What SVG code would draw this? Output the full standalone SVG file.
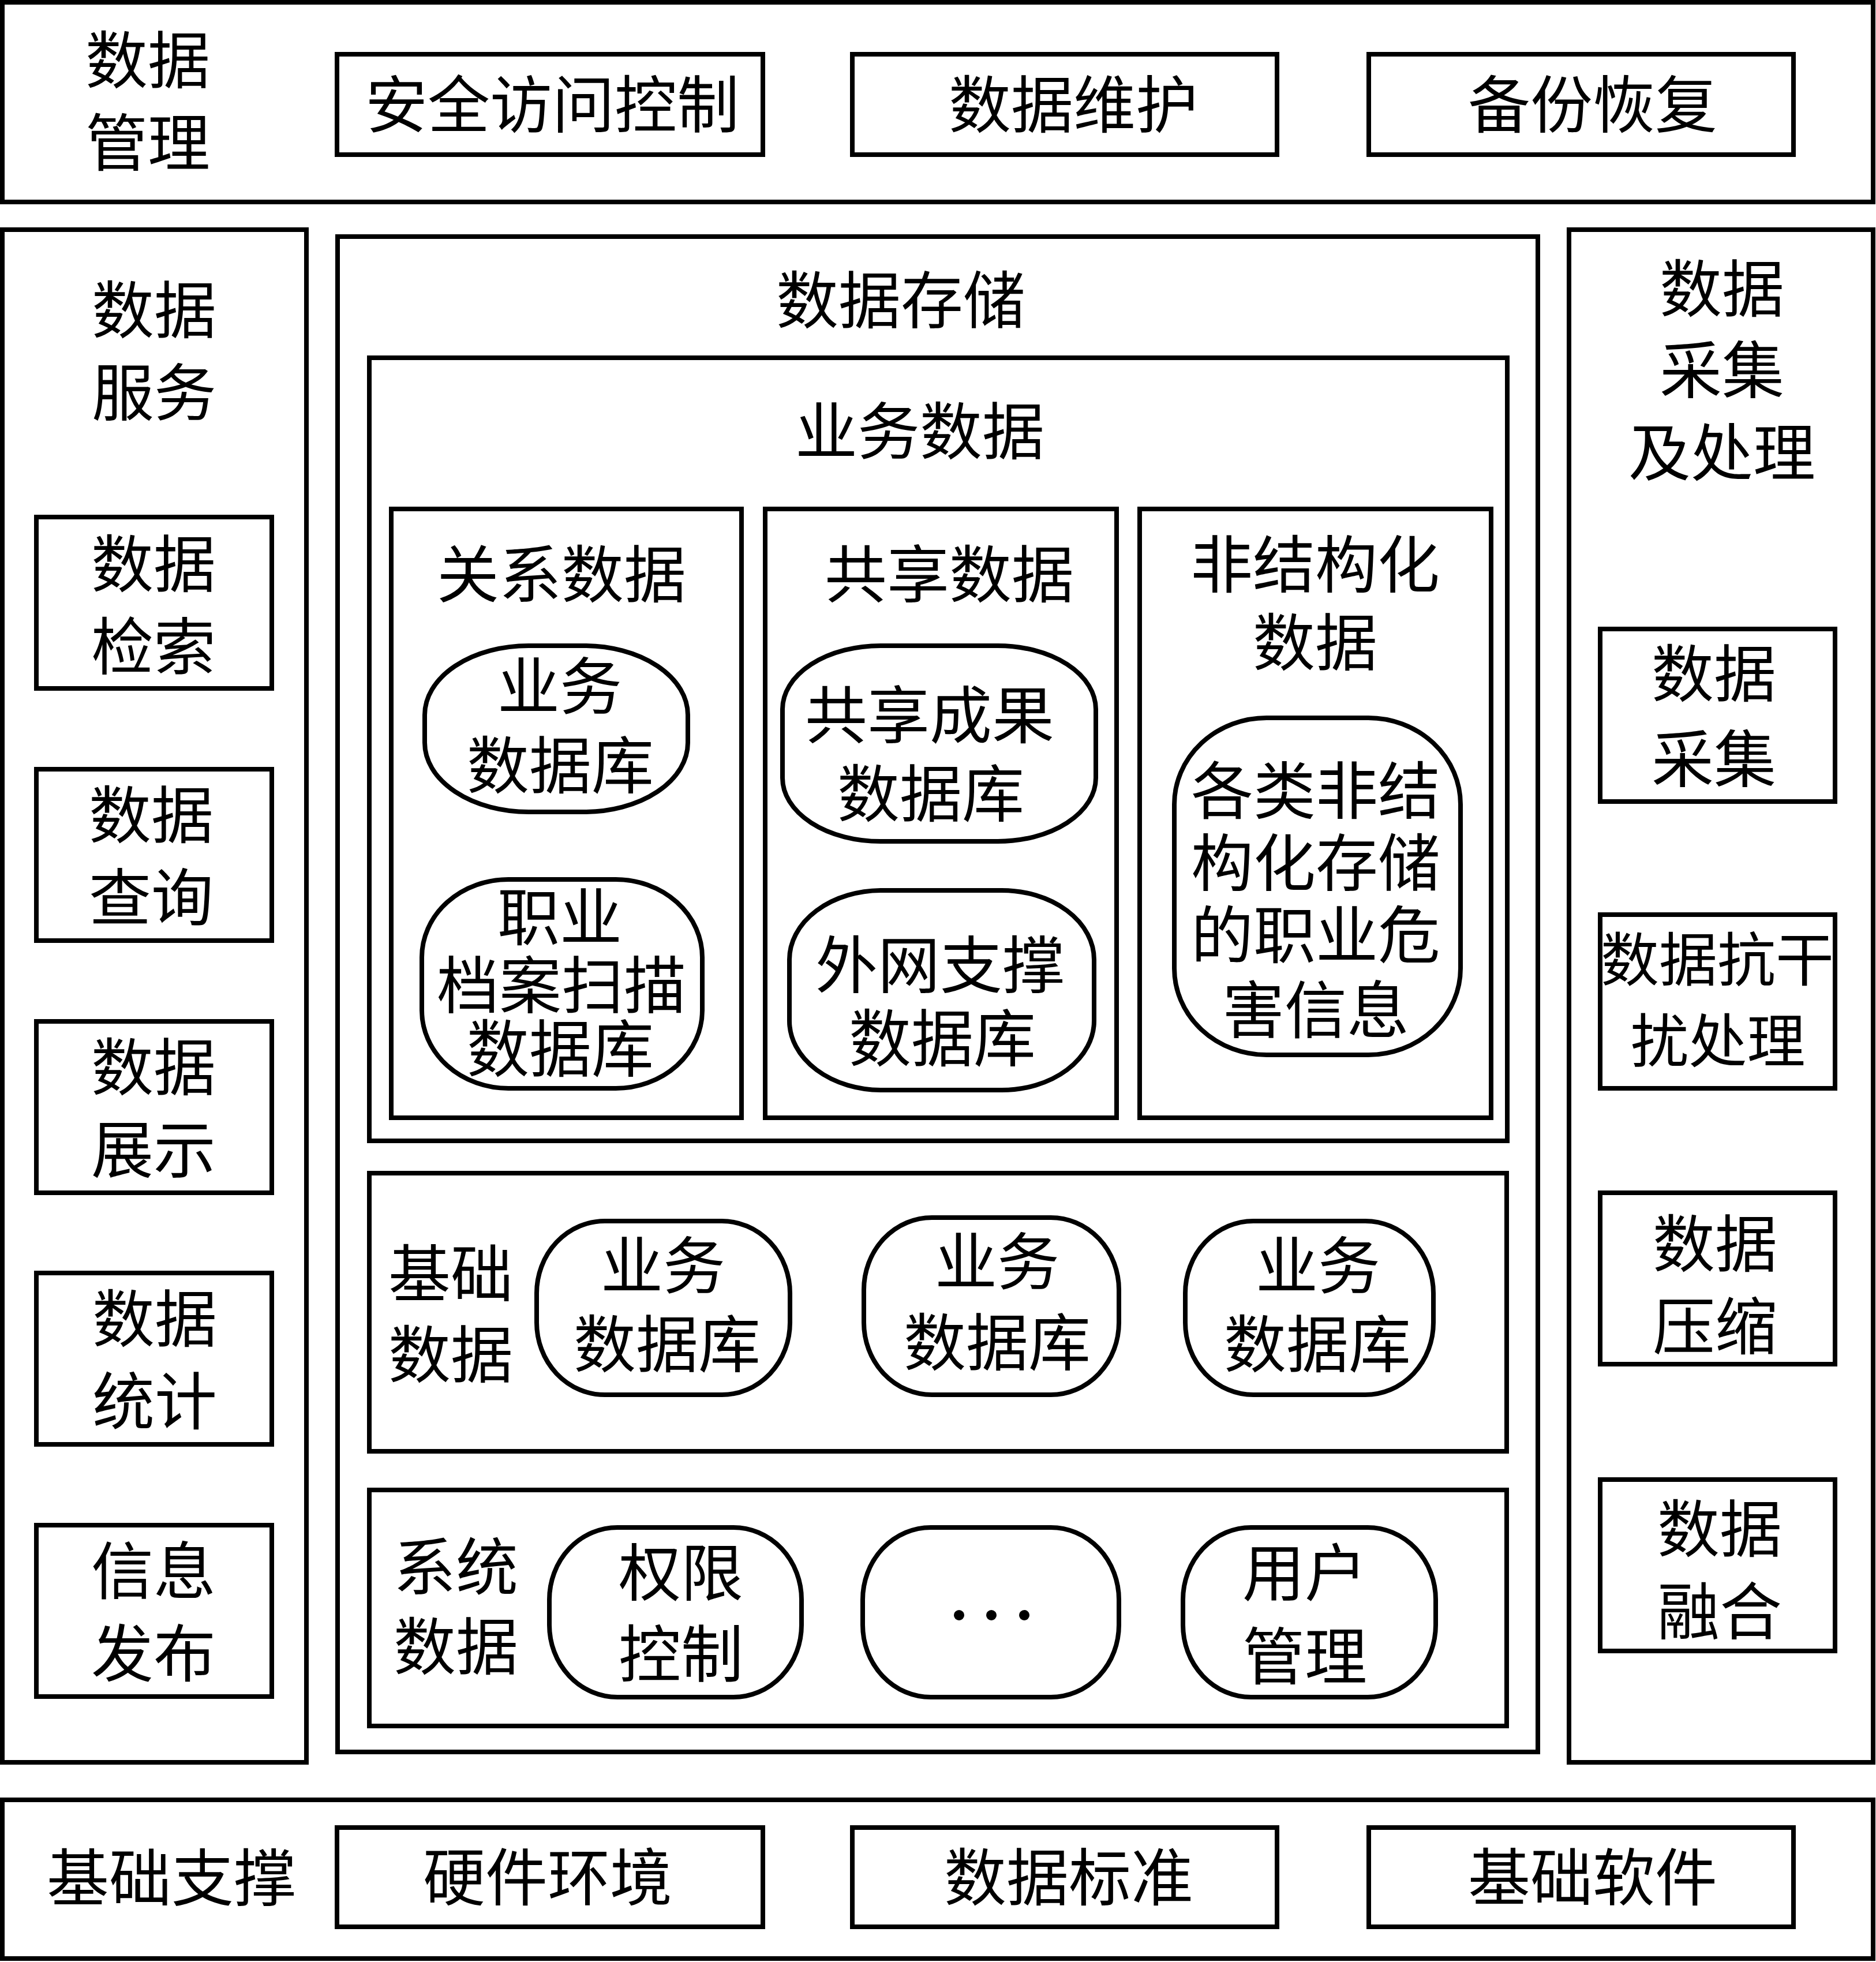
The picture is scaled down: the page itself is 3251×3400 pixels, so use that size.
<svg xmlns="http://www.w3.org/2000/svg" width="3251" height="3400" viewBox="0 0 3251 3400">
<style>
.b{fill:none;stroke:#000;stroke-width:8}
.r{fill:none;stroke:#000;stroke-width:8}
text{font-family:"Noto Sans CJK SC","Noto Sans CJK JP",sans-serif;font-size:108px;fill:#000;text-anchor:middle}
</style>
<rect x="0" y="0" width="3251" height="3400" fill="#fff"/>
<g id="top-bar">
<rect class="b" x="4" y="4" width="3242" height="346"/>
<text x="256" y="144">数据</text><text x="256" y="287">管理</text>
</g>
<g id="n-security"><rect class="b" x="584" y="94" width="738" height="174"/><text x="957" y="221">安全访问控制</text></g>
<g id="n-maintain"><rect class="b" x="1477" y="94" width="736" height="174"/><text x="1860" y="221">数据维护</text></g>
<g id="n-backup"><rect class="b" x="2372" y="94" width="736" height="174"/><text x="2760" y="221">备份恢复</text></g>

<g id="left-panel">
<rect class="b" x="4" y="398" width="527" height="2656"/>
<text x="267" y="577">数据</text><text x="267" y="720">服务</text>
</g>
<g id="n-search"><rect class="b" x="63" y="896" width="408" height="297"/><text x="266" y="1017">数据</text><text x="266" y="1160">检索</text></g>
<g id="n-query"><rect class="b" x="63" y="1333" width="408" height="297"/><text x="262" y="1452">数据</text><text x="262" y="1595">查询</text></g>
<g id="n-show"><rect class="b" x="63" y="1770" width="408" height="297"/><text x="266" y="1889">数据</text><text x="266" y="2032">展示</text></g>
<g id="n-stat"><rect class="b" x="63" y="2206" width="408" height="297"/><text x="268" y="2325">数据</text><text x="268" y="2468">统计</text></g>
<g id="n-publish"><rect class="b" x="63" y="2643" width="408" height="297"/><text x="266" y="2762">信息</text><text x="266" y="2905">发布</text></g>

<g id="storage">
<rect class="b" x="585" y="410" width="2080" height="2626"/>
<text x="1561" y="560">数据存储</text>
</g>
<g id="business">
<rect class="b" x="640" y="620" width="1972" height="1357"/>
<text x="1594" y="787">业务数据</text>
</g>
<g id="relational">
<rect class="b" x="678" y="882" width="607" height="1055"/>
<text x="973" y="1035">关系数据</text>
</g>
<g id="n-bizdb1"><rect class="r" x="736" y="1119" width="456" height="288" rx="180" ry="120"/><text x="970" y="1229">业务</text><text x="971" y="1366">数据库</text></g>
<g id="n-archive"><rect class="r" x="731" y="1524" width="486" height="362" rx="150" ry="135"/><text x="970" y="1629">职业</text><text x="973" y="1747">档案扫描</text><text x="971" y="1857">数据库</text></g>
<g id="shared">
<rect class="b" x="1326" y="882" width="609" height="1055"/>
<text x="1645" y="1035">共享数据</text>
</g>
<g id="n-result"><rect class="r" x="1356" y="1119" width="543" height="339" rx="170" ry="110"/><text x="1611" y="1279">共享成果</text><text x="1613" y="1415">数据库</text></g>
<g id="n-extnet"><rect class="r" x="1368" y="1543" width="528" height="346" rx="160" ry="120"/><text x="1629" y="1712">外网支撑</text><text x="1633" y="1839">数据库</text></g>
<g id="unstructured">
<rect class="b" x="1975" y="882" width="609" height="1055"/>
<text x="2279" y="1018">非结构化</text><text x="2279" y="1153">数据</text>
</g>
<g id="n-hazard"><rect class="r" x="2035" y="1244" width="496" height="584" rx="160" ry="150"/><text x="2280" y="1410">各类非结</text><text x="2280" y="1535">构化存储</text><text x="2280" y="1660">的职业危</text><text x="2280" y="1790">害信息</text></g>

<g id="basic">
<rect class="b" x="640" y="2033" width="1971" height="482"/>
<text x="781" y="2247">基础</text><text x="781" y="2387">数据</text>
</g>
<g id="n-basicdb1"><rect class="r" x="930" y="2116" width="439" height="301" rx="118" ry="125"/><text x="1149" y="2233">业务</text><text x="1156" y="2369">数据库</text></g>
<g id="n-basicdb2"><rect class="r" x="1497" y="2110" width="442" height="307" rx="118" ry="125"/><text x="1728" y="2226">业务</text><text x="1728" y="2366">数据库</text></g>
<g id="n-basicdb3"><rect class="r" x="2054" y="2116" width="430" height="301" rx="118" ry="125"/><text x="2284" y="2233">业务</text><text x="2283" y="2369">数据库</text></g>

<g id="system">
<rect class="b" x="640" y="2582" width="1971" height="409"/>
<text x="790" y="2755">系统</text><text x="790" y="2893">数据</text>
</g>
<g id="n-perm"><rect class="r" x="952" y="2647" width="437" height="294" rx="118" ry="125"/><text x="1180" y="2765">权限</text><text x="1180" y="2906">控制</text></g>
<g id="n-more"><rect class="r" x="1495" y="2647" width="444" height="294" rx="118" ry="125"/><circle cx="1662" cy="2799" r="9"/><circle cx="1718" cy="2799" r="9"/><circle cx="1775" cy="2799" r="9"/></g>
<g id="n-user"><rect class="r" x="2050" y="2647" width="438" height="294" rx="118" ry="125"/><text x="2261" y="2765">用户</text><text x="2261" y="2910">管理</text></g>

<g id="right-panel">
<rect class="b" x="2719" y="398" width="527" height="2656"/>
<text x="2984" y="540">数据</text><text x="2984" y="681">采集</text><text x="2984" y="824">及处理</text>
</g>
<g id="n-collect"><rect class="b" x="2773" y="1090" width="407" height="299"/><text x="2970" y="1207">数据</text><text x="2970" y="1355">采集</text></g>
<g id="n-antijam"><rect class="b" x="2773" y="1585" width="407" height="301"/><text x="2976" y="1700" style="font-size:101px">数据抗干</text><text x="2977" y="1841" style="font-size:101px">扰处理</text></g>
<g id="n-compress"><rect class="b" x="2773" y="2067" width="407" height="297"/><text x="2972" y="2195">数据</text><text x="2972" y="2338">压缩</text></g>
<g id="n-fusion"><rect class="b" x="2773" y="2564" width="407" height="297"/><text x="2980" y="2689">数据</text><text x="2980" y="2832">融合</text></g>

<g id="bottom-bar">
<rect class="b" x="4" y="3119" width="3242" height="275"/>
<text x="297" y="3294">基础支撑</text>
</g>
<g id="n-hardware"><rect class="b" x="584" y="3167" width="738" height="172"/><text x="949" y="3293">硬件环境</text></g>
<g id="n-standard"><rect class="b" x="1477" y="3167" width="736" height="172"/><text x="1852" y="3293">数据标准</text></g>
<g id="n-software"><rect class="b" x="2372" y="3167" width="736" height="172"/><text x="2760" y="3293">基础软件</text></g>
<g id="connectors"></g>
</svg>
